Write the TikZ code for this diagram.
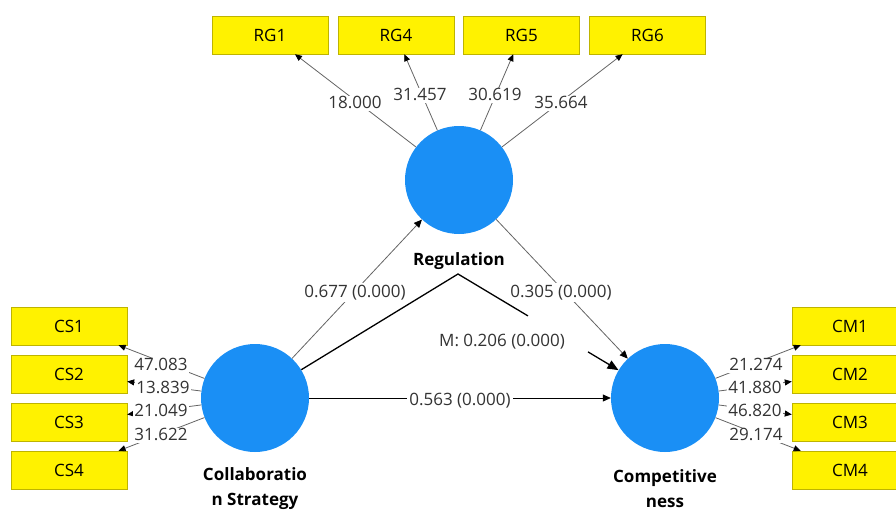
\documentclass[tikz,border=0pt]{standalone}
\usepackage{fontspec}
\setmainfont{Open Sans}
\usetikzlibrary{arrows.meta,calc}
\definecolor{lvblue}{RGB}{26,143,245}
\definecolor{boxedge}{RGB}{190,180,0}
\definecolor{txtgray}{RGB}{51,51,51}
\definecolor{linegray}{RGB}{100,100,100}
\begin{document}
\begin{tikzpicture}[x=1pt,y=-1pt,
  lv/.style={circle,fill=lvblue,minimum size=108pt,inner sep=0pt},
  ind/.style={rectangle,fill=yellow,draw=boxedge,minimum width=116pt,minimum height=38pt,inner sep=0pt,font=\fontsize{17}{20}\selectfont},
  load/.style={draw=linegray,line width=0.8pt,-{Triangle[length=7pt,width=6pt,black]}},
  struct/.style={draw=linegray,line width=0.8pt,-{Triangle[length=8pt,width=7pt,black]}},
  num/.style={fill=white,text=txtgray,inner sep=1pt,text height=12pt,text depth=1pt,font=\fontsize{17}{20}\selectfont},
  lvname/.style={font=\bfseries\fontsize{17}{25}\selectfont,align=center},
  mod/.style={draw=black,line width=1.3pt}
]
\useasboundingbox (0,0) rectangle (896,511);
\clip (0,0) rectangle (896,511);

% latent variables
\node[lv] (reg) at (459,180) {};
\node[lv] (col) at (255,398) {};
\node[lv] (comp) at (665,398) {};

% indicators
\node[ind] (rg1) at (270,35) {RG1};
\node[ind] (rg4) at (396,35) {RG4};
\node[ind] (rg5) at (521.5,35) {RG5};
\node[ind] (rg6) at (647.5,35) {RG6};
\node[ind] (cs1) at (69,326) {CS1};
\node[ind] (cs2) at (69,374) {CS2};
\node[ind] (cs3) at (69,422) {CS3};
\node[ind] (cs4) at (69,470) {CS4};
\node[ind] (cm1) at (850,326) {CM1};
\node[ind] (cm2) at (850,374) {CM2};
\node[ind] (cm3) at (850,422) {CM3};
\node[ind] (cm4) at (850,470) {CM4};

% loadings
\foreach \t in {rg1,rg4,rg5,rg6} \draw[load] (reg) -- (\t);
\foreach \t in {cs1,cs2,cs3,cs4} \draw[load] (col) -- (\t);
\foreach \t in {cm1,cm2,cm3,cm4} \draw[load] (comp) -- (\t);

% structural paths
\draw[struct] (col) -- (reg);
\draw[struct] (reg) -- (comp);
\draw[struct,draw=black] (col) -- (comp);

% moderation
\coordinate (apex) at (458,274);
\draw[mod,line join=miter] (col) -- (apex) -- ($(apex)!0.338!(comp)$);
\draw[mod,-{Triangle[length=11pt,width=9pt]}] ($(apex)!0.628!(comp)$) -- (comp);

% loading labels
\node[num] (l1) at (355,103) {18.000};
\node[num] (l2) at (420,95) {31.457};
\node[num] (l3) at (495,95) {30.619};
\node[num] (l4) at (561,103) {35.664};
\node[num] (l5) at (161,365) {47.083};
\node[num] (l6) at (163,388) {13.839};
\node[num] (l7) at (161,411) {21.049};
\node[num] (l8) at (161,435) {31.622};
\node[num] (l9) at (756,365) {21.274};
\node[num] (l10) at (755,388) {41.880};
\node[num] (l11) at (755,411) {46.820};
\node[num] (l12) at (756,435) {29.174};

% path labels
\node[num,inner sep=3pt] (p1) at (355,292) {0.677 (0.000)};
\node[num,inner sep=3pt] (p2) at (561,292) {0.305 (0.000)};
\node[num,inner sep=2pt] (p3) at (460,400) {0.563 (0.000)};
\node[num] (p4) at (502,341) {M: 0.206 (0.000)};

% latent names
\node[lvname] (nreg) at (459,261) {Regulation};
\node[lvname] (ncol) at (255,489) {Collaboratio\\n Strategy};
\node[lvname] (ncomp) at (665,489) {Competitive\\ness};
\end{tikzpicture}
\end{document}
